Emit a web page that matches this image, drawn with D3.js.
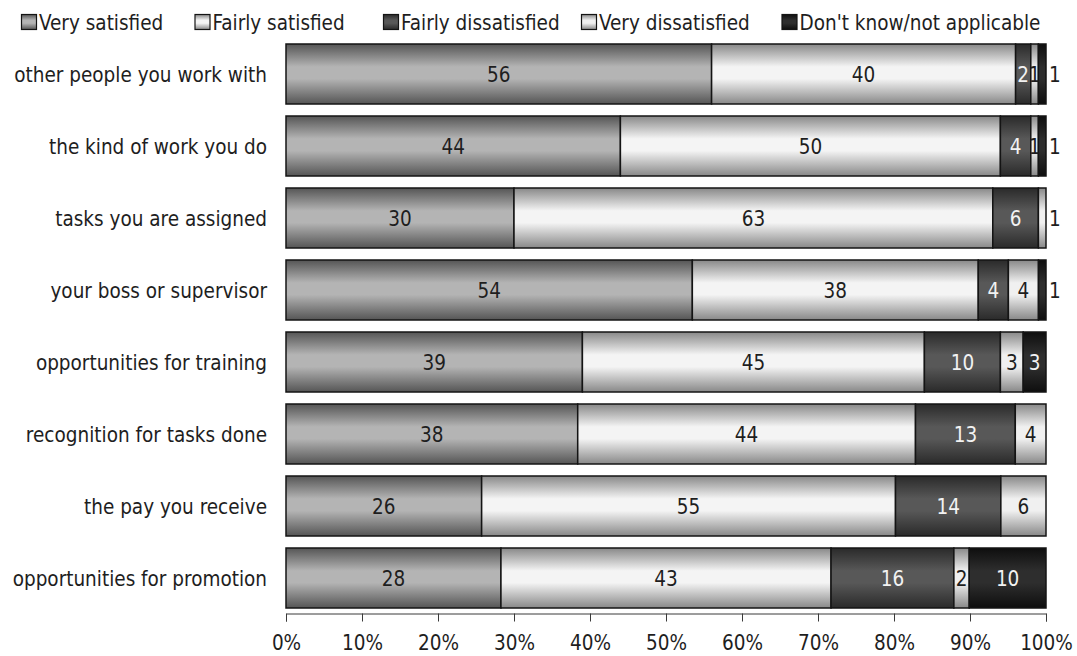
<!DOCTYPE html>
<html>
<head>
<meta charset="utf-8">
<script src="https://cdn.jsdelivr.net/npm/d3@7"></script>
<style>
  html, body { margin: 0; padding: 0; background: #fff; }
  svg { display: block; }
  text { font-family: "DejaVu Sans Condensed", "DejaVu Sans", sans-serif; }
</style>
</head>
<body>
<svg id="chart" width="1077" height="656"></svg>
<script>
// Job satisfaction survey, percentages per aspect of work
const categories = [
  "other people you work with",
  "the kind of work you do",
  "tasks you are assigned",
  "your boss or supervisor",
  "opportunities for training",
  "recognition for tasks done",
  "the pay you receive",
  "opportunities for promotion"
];
const seriesNames = [
  "Very satisfied",
  "Fairly satisfied",
  "Fairly dissatisfied",
  "Very dissatisfied",
  "Don't know/not applicable"
];
const verySatisfied      = [56, 44, 30, 54, 39, 38, 26, 28];
const fairlySatisfied    = [40, 50, 63, 38, 45, 44, 55, 43];
const fairlyDissatisfied = [ 2,  4,  6,  4, 10, 13, 14, 16];
const veryDissatisfied   = [ 1,  1,  1,  4,  3,  4,  6,  2];
const dontKnow           = [ 1,  1,  0,  1,  3,  0,  0, 10];
const tickValues = [0, 0.1, 0.2, 0.3, 0.4, 0.5, 0.6, 0.7, 0.8, 0.9, 1];

const seriesValues = [verySatisfied, fairlySatisfied, fairlyDissatisfied, veryDissatisfied, dontKnow];
const rows = categories.map((c, i) => {
  const r = { category: c };
  seriesNames.forEach((s, k) => { r[s] = seriesValues[k][i]; });
  return r;
});

// cylinder-like shading: dark edge, light middle, dark edge
const shades = [
  { edge: "#555555", mid: "#b4b4b4", label: "#1e1e1e" },
  { edge: "#888888", mid: "#f4f4f4", label: "#1e1e1e" },
  { edge: "#2a2a2a", mid: "#585858", label: "#f2f2f2" },
  { edge: "#888888", mid: "#f0f0f0", label: "#1e1e1e" },
  { edge: "#0e0e0e", mid: "#2e2e2e", label: "#f2f2f2" }
];

const svg = d3.select("#chart");
const FONT = 20.5;

const defs = svg.append("defs");
shades.forEach((s, i) => {
  const g = defs.append("linearGradient")
    .attr("id", "grad" + i)
    .attr("x1", 0).attr("y1", 0).attr("x2", 0).attr("y2", 1);
  g.append("stop").attr("offset", "0%").attr("stop-color", s.edge);
  g.append("stop").attr("offset", "38%").attr("stop-color", s.mid);
  g.append("stop").attr("offset", "58%").attr("stop-color", s.mid);
  g.append("stop").attr("offset", "100%").attr("stop-color", s.edge);
});

const x = d3.scaleLinear().domain([0, 1]).range([286, 1046]);
const y = d3.scaleBand().domain(categories).range([38, 614])
  .paddingInner(1 / 6).paddingOuter(1 / 12);

const stack = d3.stack().keys(seriesNames).offset(d3.stackOffsetExpand);
const layers = stack(rows);

// bars
const layerG = svg.append("g").selectAll("g")
  .data(layers)
  .join("g")
  .attr("fill", (d, i) => `url(#grad${i})`);

layerG.selectAll("rect")
  .data(d => d.filter(p => p[1] - p[0] > 0))
  .join("rect")
  .attr("x", d => x(d[0]))
  .attr("y", d => y(d.data.category))
  .attr("width", d => x(d[1]) - x(d[0]))
  .attr("height", y.bandwidth())
  .attr("stroke", "#141414")
  .attr("stroke-width", 1.5);

// value labels; a thin last segment gets its label just past the bar end
const labels = [];
layers.forEach((layer, k) => {
  layer.forEach((p, j) => {
    const v = seriesValues[k][j];
    if (v <= 0) return;
    const laterNonZero = seriesValues.slice(k + 1).some(arr => arr[j] > 0);
    const x0 = x(p[0]), x1 = x(p[1]);
    const outside = !laterNonZero && (x1 - x0) < 14;
    labels.push({
      text: v,
      x: outside ? x(1) + 3 : (x0 + x1) / 2,
      anchor: outside ? "start" : "middle",
      fill: outside ? "#1e1e1e" : shades[k].label,
      y: y(p.data.category) + y.bandwidth() / 2
    });
  });
});

svg.append("g").selectAll("text")
  .data(labels)
  .join("text")
  .attr("x", d => d.x)
  .attr("y", d => d.y)
  .attr("dy", "0.38em")
  .attr("text-anchor", d => d.anchor)
  .attr("fill", d => d.fill)
  .attr("font-size", FONT)
  .text(d => d.text);

// category labels
svg.append("g").selectAll("text")
  .data(categories)
  .join("text")
  .attr("x", 267)
  .attr("y", d => y(d) + y.bandwidth() / 2)
  .attr("dy", "0.38em")
  .attr("text-anchor", "end")
  .attr("fill", "#1e1e1e")
  .attr("font-size", FONT)
  .text(d => d);

// bottom axis
const axis = svg.append("g")
  .attr("transform", "translate(0,613.5)")
  .call(d3.axisBottom(x)
    .tickValues(tickValues)
    .tickFormat(d3.format(".0%"))
    .tickSizeInner(8)
    .tickSizeOuter(8)
    .tickPadding(14));
axis.attr("font-family", null);
axis.select(".domain").attr("stroke", "#3a3a3a");
axis.selectAll(".tick line").attr("stroke", "#3a3a3a");
axis.selectAll(".tick text")
  .attr("font-size", FONT)
  .attr("fill", "#1e1e1e");

// legend
const legendX = [21.5, 195, 383.5, 581.5, 782];
const legend = svg.append("g").selectAll("g")
  .data(seriesNames)
  .join("g")
  .attr("transform", (d, i) => `translate(${legendX[i]},14.5)`);
legend.append("rect")
  .attr("width", 15).attr("height", 15)
  .attr("fill", (d, i) => `url(#grad${i})`)
  .attr("stroke", "#141414").attr("stroke-width", 1.2);
legend.append("text")
  .attr("x", 17.5).attr("y", 15)
  .attr("fill", "#1e1e1e")
  .attr("font-size", FONT)
  .text(d => d);
</script>
</body>
</html>
